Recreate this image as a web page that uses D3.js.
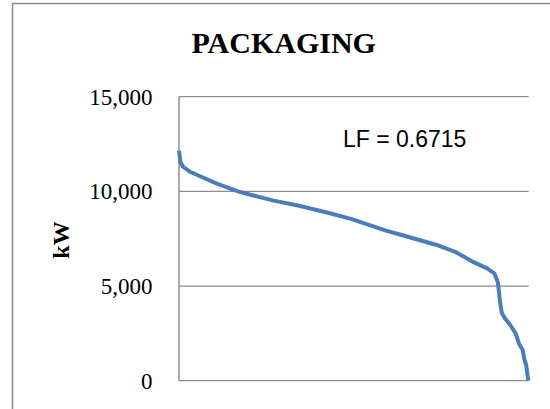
<!DOCTYPE html>
<html>
<head>
<meta charset="utf-8">
<script src="https://cdn.jsdelivr.net/npm/d3@7"></script>
<style>
  html, body { margin: 0; padding: 0; background: #fff; }
  svg { display: block; }
</style>
</head>
<body>
<div id="chart"></div>
<script>
// Load duration curve data (hours of year sorted by demand)
const hours = [0, 38, 100, 263, 526, 964, 1477, 1667, 2370, 2978, 3679, 4305, 5181, 5619, 6497, 6933, 7376, 7726, 7901, 7984, 8034, 8077, 8159, 8297, 8430, 8510, 8605, 8650, 8692, 8735, 8755];
const kw    = [12150, 11550, 11300, 11050, 10800, 10400, 10000, 9890, 9510, 9250, 8900, 8550, 7930, 7670, 7140, 6790, 6260, 5920, 5650, 5200, 4250, 3600, 3300, 2930, 2490, 1970, 1620, 1090, 830, 140, 0];
const yTicks = [0, 5000, 10000, 15000];
const titleText = "PACKAGING";
const yLabel = "kW";
const annotation = "LF = 0.6715";

const W = 550, H = 409;
const plot = { left: 179, right: 528.7, top: 96.7, bottom: 380.7 };

const svg = d3.select("#chart").append("svg").attr("width", W).attr("height", H);

// outer chart border (extends beyond viewport on right/bottom)
svg.append("rect")
  .attr("x", 12.5).attr("y", 3.5).attr("width", 700).attr("height", 700)
  .attr("fill", "none").attr("stroke", "#8c8c8c").attr("stroke-width", 1.5);

const x = d3.scaleLinear().domain([0, 8755]).range([plot.left, plot.right]);
const y = d3.scaleLinear().domain([0, 15000]).range([plot.bottom, plot.top]);

// gridlines
svg.append("g")
  .selectAll("line").data(yTicks).join("line")
  .attr("x1", plot.left).attr("x2", plot.right)
  .attr("y1", d => y(d)).attr("y2", d => y(d))
  .attr("stroke", "#8c8c8c").attr("stroke-width", 1.2);

// y axis line
svg.append("line")
  .attr("x1", plot.left).attr("x2", plot.left)
  .attr("y1", plot.top).attr("y2", plot.bottom)
  .attr("stroke", "#8c8c8c").attr("stroke-width", 1.5);

// y tick labels
const fmt = d3.format(",");
svg.append("g")
  .selectAll("text").data(yTicks).join("text")
  .attr("x", 152.5).attr("y", d => y(d))
  .attr("dy", "0.35em")
  .attr("text-anchor", "end")
  .attr("font-family", "'Liberation Serif', 'DejaVu Serif', serif")
  .attr("font-size", 23)
  .attr("fill", "#000")
  .text(d => fmt(d));

// title
svg.append("text")
  .attr("x", 283.7).attr("y", 53)
  .attr("text-anchor", "middle")
  .attr("font-family", "'Liberation Serif', serif")
  .attr("font-weight", "bold")
  .attr("font-size", 30)
  .text(titleText);

// y axis label
svg.append("text")
  .attr("transform", "translate(69,240) rotate(-90)")
  .attr("text-anchor", "middle")
  .attr("font-family", "'Liberation Serif', serif")
  .attr("font-weight", "bold")
  .attr("font-size", 24)
  .text(yLabel);

// annotation
svg.append("text")
  .attr("x", 343).attr("y", 147)
  .attr("font-family", "'Liberation Sans', Arial, sans-serif")
  .attr("font-size", 23)
  .text(annotation);

// curve
const pts = hours.map((h, i) => [h, kw[i]]);
const line = d3.line().x(d => x(d[0])).y(d => y(d[1]));
svg.append("path")
  .datum(pts)
  .attr("d", line)
  .attr("fill", "none")
  .attr("stroke", "#4a7ebb")
  .attr("stroke-width", 4)
  .attr("stroke-linejoin", "round");
</script>
</body>
</html>
